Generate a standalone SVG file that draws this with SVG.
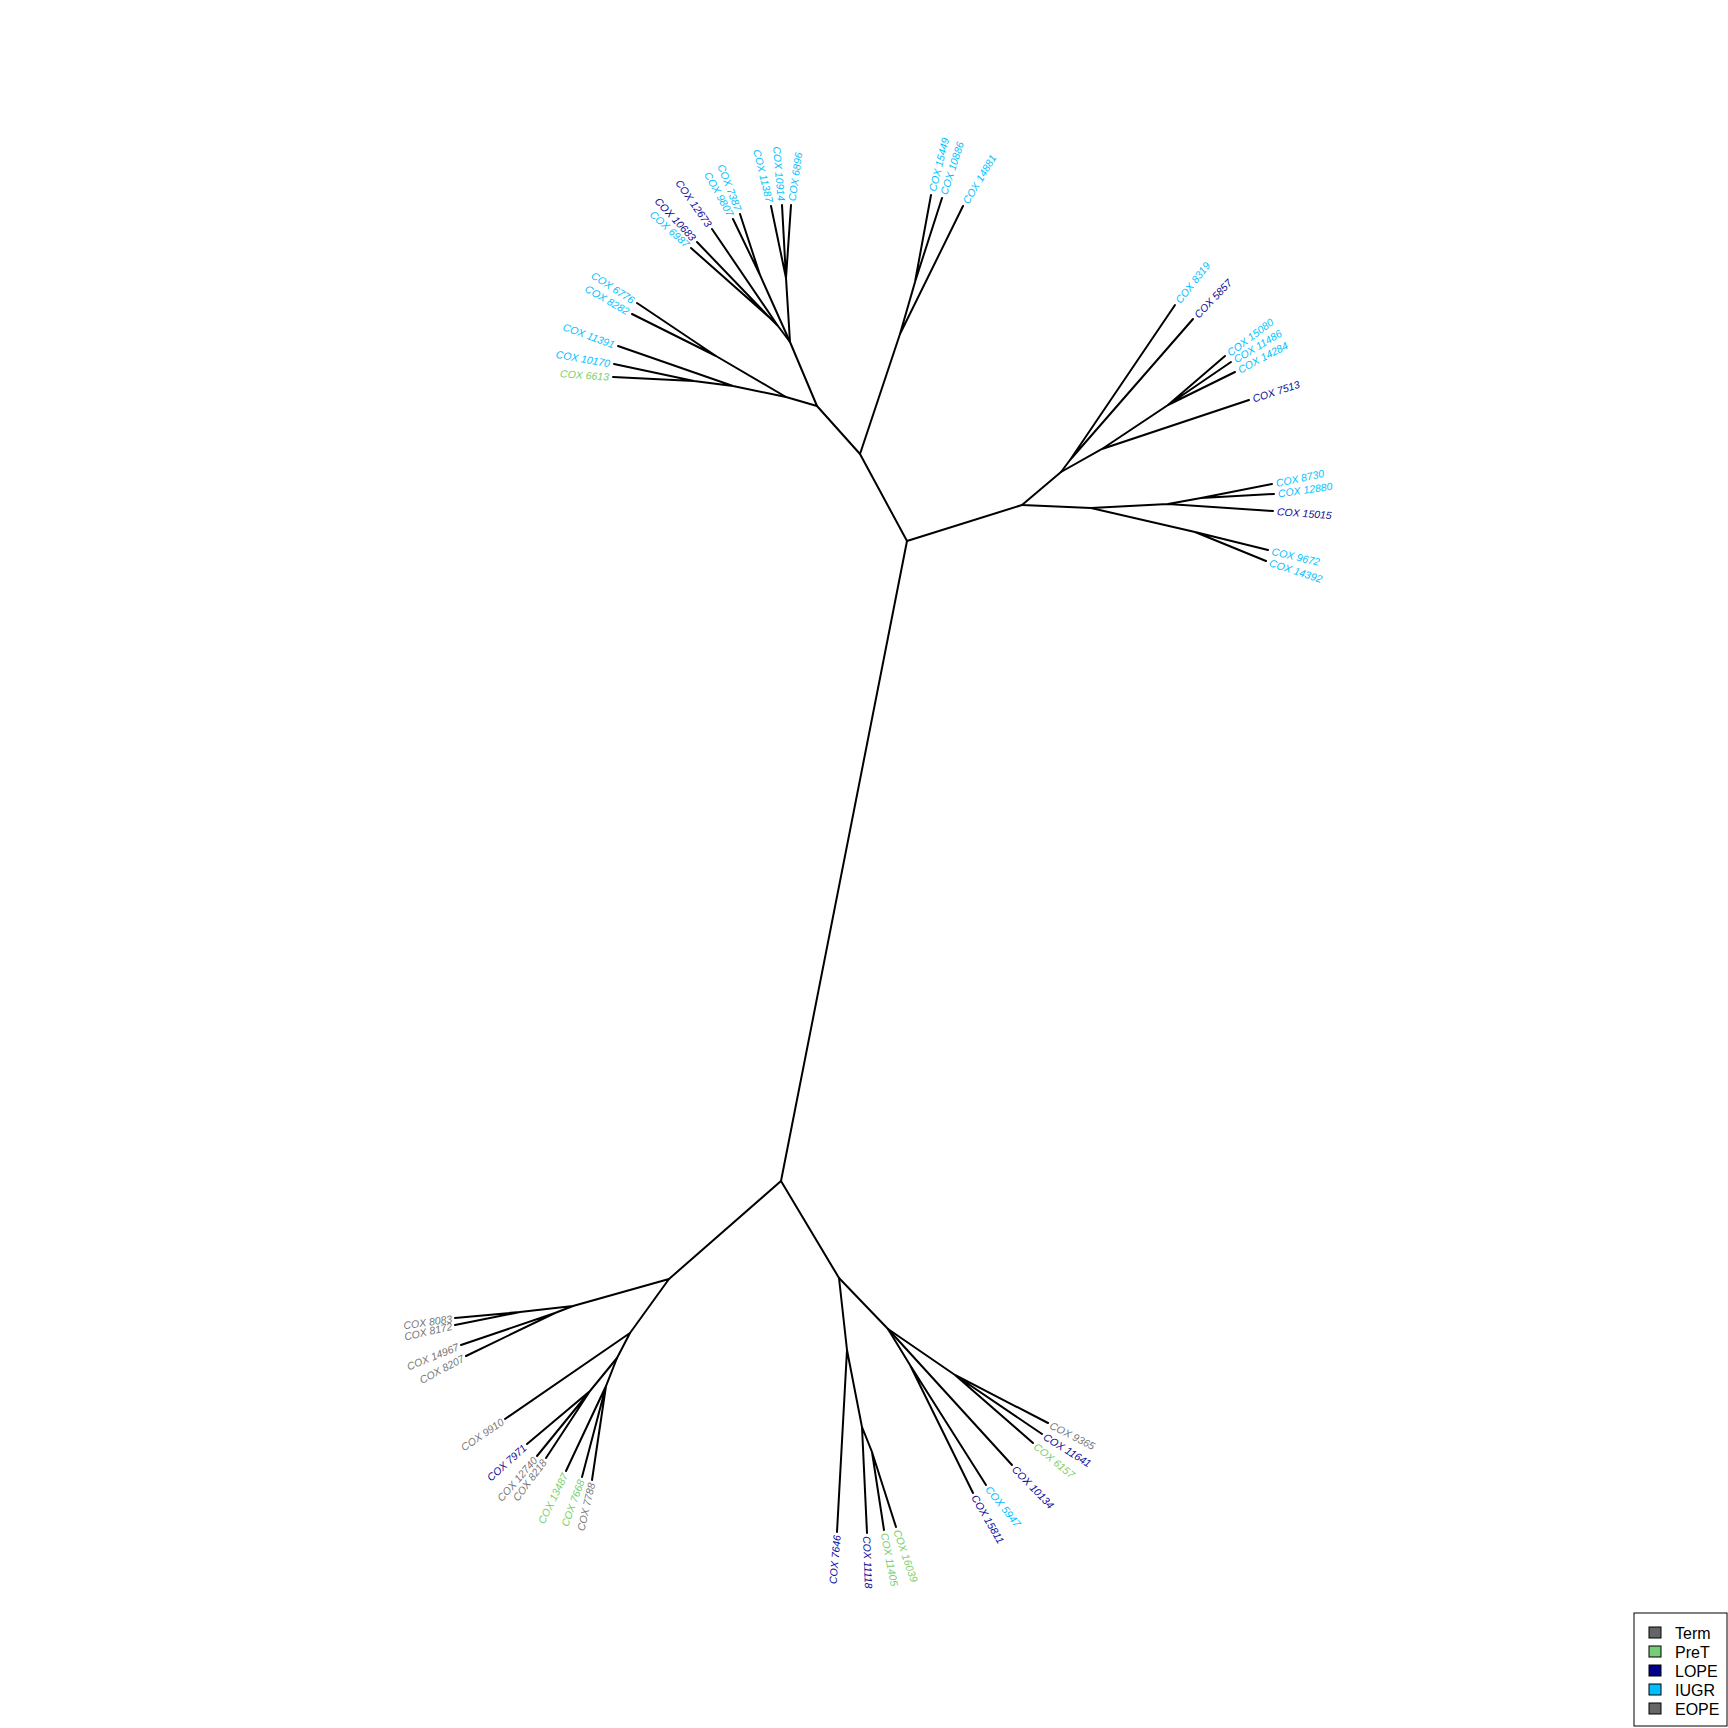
<svg xmlns="http://www.w3.org/2000/svg" width="1728" height="1728" viewBox="0 0 1728 1728">
<style>
.br{stroke:#000;stroke-width:2;fill:none;stroke-linecap:round}
.t{font-family:"Liberation Sans",Arial,sans-serif;font-size:10.5px;font-style:italic;dominant-baseline:central}
.s{text-anchor:start}
.e{text-anchor:end}
.iugr{fill:#00BFFF}
.lope{fill:#0A0A99}
.pret{fill:#7ACF6A}
.gray{fill:#777777}
.lg{font-family:"Liberation Sans",Arial,sans-serif;font-size:16px;fill:#000}
.sq{stroke:#000;stroke-width:1}
</style>
<rect width="1728" height="1728" fill="#fff"/>
<g id="connectors">
<!-- backbone -->
<path class="br" d="M907,541 L781,1181"/>
<path class="br" d="M907,541 L860,454 M907,541 L1022,505"/>
<path class="br" d="M860,454 L817,406 M860,454 L900,334"/>
<!-- F group -->
<path class="br" d="M900,334 L915,282 L931,195 M915,282 L942,198 M900,334 L963,206"/>
<!-- E -->
<path class="br" d="M817,406 L790,342 M817,406 L786,397"/>
<!-- G group -->
<path class="br" d="M790,342 L786,278 L791,205 M786,278 L782,205 M786,278 L771,206"/>
<path class="br" d="M790,342 L760,275 L740,214 M760,275 L733,219"/>
<path class="br" d="M790,342 L778,326 L712,229 M778,326 L770,318 L697,242 M770,318 L691,248"/>
<!-- H group -->
<path class="br" d="M786,397 L716,356 L637,303 M716,356 L632,314"/>
<path class="br" d="M786,397 L733,386 L618,346 M733,386 L694,381 L614,364 M694,381 L613,377"/>
<!-- D / K group -->
<path class="br" d="M1022,505 L1061,472 M1022,505 L1091,508"/>
<path class="br" d="M1061,472 L1070,460 L1175,305 M1070,460 L1193,319"/>
<path class="br" d="M1061,472 L1102,449 L1249,400 M1102,449 L1168,405 L1225,356 M1168,405 L1231,362 M1168,405 L1235,372"/>
<!-- L group -->
<path class="br" d="M1091,508 L1168,504 L1273,511 M1168,504 L1201,498 L1272,484 M1201,498 L1274,494"/>
<path class="br" d="M1091,508 L1195,532 L1268,550 M1195,532 L1266,561"/>
<!-- bottom -->
<path class="br" d="M781,1181 L669,1279 M781,1181 L839,1278"/>
<path class="br" d="M669,1279 L573,1306 M669,1279 L630,1333"/>
<path class="br" d="M573,1306 L520,1312 L455,1318 M520,1312 L455,1325 M573,1306 L555,1313 L461,1345 M555,1313 L466,1356"/>
<path class="br" d="M630,1333 L505,1419 M630,1333 L617,1358"/>
<path class="br" d="M617,1358 L590,1391 L527,1444 M590,1391 L537,1456 M590,1391 L546,1458"/>
<path class="br" d="M617,1358 L606,1386 L566,1471 M606,1386 L582,1477 M606,1386 L592,1480"/>
<path class="br" d="M839,1278 L847,1350 L837,1532 M847,1350 L862,1427 L867,1533 M862,1427 L872,1452 L884,1530 M872,1452 L896,1527"/>
<path class="br" d="M839,1278 L888,1329"/>
<path class="br" d="M888,1329 L955,1375 L1048,1423 M955,1375 L1042,1434 M955,1375 L1033,1443"/>
<path class="br" d="M888,1329 L1012,1465"/>
<path class="br" d="M888,1329 L910,1365 L986,1485 M910,1365 L973,1493"/>
</g>
<g id="tips">
<g id="n15449"><text class="t s iugr" transform="translate(931,195) rotate(-76)" x="4">COX 15449</text></g>
<g id="n10886"><text class="t s iugr" transform="translate(942,198) rotate(-72)" x="4">COX 10886</text></g>
<g id="n14881"><text class="t s iugr" transform="translate(963,206) rotate(-59)" x="4">COX 14881</text></g>
<g id="n6896"><text class="t s iugr" transform="translate(791,205) rotate(-82)" x="4">COX 6896</text></g>
<g id="n10914"><text class="t e iugr" transform="translate(782,205) rotate(85)" x="-4">COX 10914</text></g>
<g id="n11387"><text class="t e iugr" transform="translate(771,206) rotate(76)" x="-4">COX 11387</text></g>
<g id="n7387"><text class="t e iugr" transform="translate(740,214) rotate(69)" x="-4">COX 7387</text></g>
<g id="n9807"><text class="t e iugr" transform="translate(733,219) rotate(61)" x="-4">COX 9807</text></g>
<g id="n12673"><text class="t e lope" transform="translate(712,229) rotate(55)" x="-4">COX 12673</text></g>
<g id="n10683"><text class="t e lope" transform="translate(697,242) rotate(47)" x="-4">COX 10683</text></g>
<g id="n6987"><text class="t e iugr" transform="translate(691,248) rotate(42)" x="-4">COX 6987</text></g>
<g id="n6776"><text class="t e iugr" transform="translate(637,303) rotate(33)" x="-4">COX 6776</text></g>
<g id="n8282"><text class="t e iugr" transform="translate(632,314) rotate(30)" x="-4">COX 8282</text></g>
<g id="n11391"><text class="t e iugr" transform="translate(618,346) rotate(20)" x="-4">COX 11391</text></g>
<g id="n10170"><text class="t e iugr" transform="translate(614,364) rotate(10)" x="-4">COX 10170</text></g>
<g id="n6613"><text class="t e pret" transform="translate(613,377) rotate(4)" x="-4">COX 6613</text></g>
<g id="n8319"><text class="t s iugr" transform="translate(1175,305) rotate(-52)" x="4">COX 8319</text></g>
<g id="n5857"><text class="t s lope" transform="translate(1193,319) rotate(-46)" x="4">COX 5857</text></g>
<g id="n15080"><text class="t s iugr" transform="translate(1225,356) rotate(-37)" x="4">COX 15080</text></g>
<g id="n11486"><text class="t s iugr" transform="translate(1231,362) rotate(-31)" x="4">COX 11486</text></g>
<g id="n14284"><text class="t s iugr" transform="translate(1235,372) rotate(-28)" x="4">COX 14284</text></g>
<g id="n7513"><text class="t s lope" transform="translate(1249,400) rotate(-18)" x="4">COX 7513</text></g>
<g id="n8730"><text class="t s iugr" transform="translate(1272,484) rotate(-12)" x="4">COX 8730</text></g>
<g id="n12880"><text class="t s iugr" transform="translate(1274,494) rotate(-8)" x="4">COX 12880</text></g>
<g id="n15015"><text class="t s lope" transform="translate(1273,511) rotate(4)" x="4">COX 15015</text></g>
<g id="n9672"><text class="t s iugr" transform="translate(1268,550) rotate(13)" x="4">COX 9672</text></g>
<g id="n14392"><text class="t s iugr" transform="translate(1266,561) rotate(18)" x="4">COX 14392</text></g>
<g id="n8083"><text class="t e gray" transform="translate(455,1318) rotate(-8)" x="-3">COX 8083</text></g>
<g id="n8172"><text class="t e gray" transform="translate(455,1325) rotate(-13)" x="-3">COX 8172</text></g>
<g id="n14967"><text class="t e gray" transform="translate(461,1345) rotate(-22)" x="-3">COX 14967</text></g>
<g id="n8207"><text class="t e gray" transform="translate(466,1356) rotate(-28)" x="-3">COX 8207</text></g>
<g id="n9910"><text class="t e gray" transform="translate(505,1419) rotate(-34)" x="-3">COX 9910</text></g>
<g id="n7971"><text class="t e lope" transform="translate(527,1444) rotate(-42)" x="-3">COX 7971</text></g>
<g id="n12740"><text class="t e gray" transform="translate(537,1456) rotate(-49)" x="-3">COX 12740</text></g>
<g id="n8218"><text class="t e gray" transform="translate(546,1458) rotate(-53)" x="-3">COX 8218</text></g>
<g id="n13487"><text class="t e pret" transform="translate(566,1471) rotate(-64)" x="-3">COX 13487</text></g>
<g id="n7668"><text class="t e pret" transform="translate(582,1477) rotate(-70)" x="-3">COX 7668</text></g>
<g id="n7788"><text class="t e gray" transform="translate(592,1480) rotate(-77)" x="-3">COX 7788</text></g>
<g id="n7646"><text class="t e lope" transform="translate(837,1532) rotate(-85)" x="-3">COX 7646</text></g>
<g id="n11118"><text class="t s lope" transform="translate(867,1533) rotate(88)" x="3">COX 11118</text></g>
<g id="n11405"><text class="t s pret" transform="translate(884,1530) rotate(79)" x="3">COX 11405</text></g>
<g id="n16039"><text class="t s pret" transform="translate(896,1527) rotate(71)" x="3">COX 16039</text></g>
<g id="n15811"><text class="t s lope" transform="translate(973,1493) rotate(60)" x="3">COX 15811</text></g>
<g id="n5947"><text class="t s iugr" transform="translate(986,1485) rotate(51)" x="3">COX 5947</text></g>
<g id="n10134"><text class="t s lope" transform="translate(1012,1465) rotate(46)" x="3">COX 10134</text></g>
<g id="n6157"><text class="t s pret" transform="translate(1033,1443) rotate(39)" x="3">COX 6157</text></g>
<g id="n11641"><text class="t s lope" transform="translate(1042,1434) rotate(32)" x="3">COX 11641</text></g>
<g id="n9365"><text class="t s gray" transform="translate(1048,1423) rotate(27)" x="3">COX 9365</text></g>
</g>
<g id="legend">
<rect x="1634" y="1613" width="93" height="113" fill="#fff" stroke="#000" stroke-width="1"/>
<rect class="sq" x="1649" y="1627" width="12" height="11" fill="#666666"/>
<text class="lg" x="1675" y="1639">Term</text>
<rect class="sq" x="1649" y="1646" width="12" height="11" fill="#77CC77"/>
<text class="lg" x="1675" y="1658">PreT</text>
<rect class="sq" x="1649" y="1665" width="12" height="11" fill="#00008B"/>
<text class="lg" x="1675" y="1677">LOPE</text>
<rect class="sq" x="1649" y="1684" width="12" height="11" fill="#00BFFF"/>
<text class="lg" x="1675" y="1696">IUGR</text>
<rect class="sq" x="1649" y="1703" width="12" height="11" fill="#666666"/>
<text class="lg" x="1675" y="1715">EOPE</text>
</g>
</svg>
